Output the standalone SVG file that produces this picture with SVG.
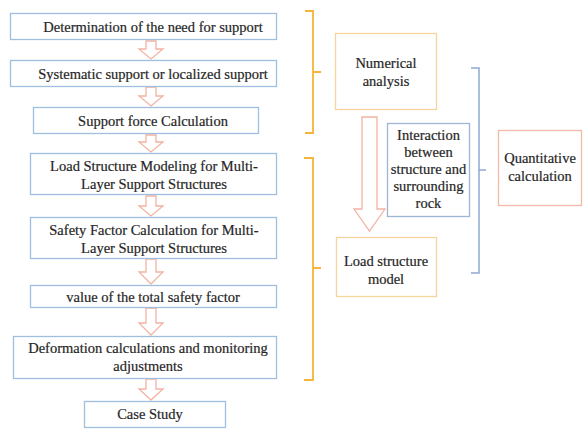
<svg xmlns="http://www.w3.org/2000/svg" width="584" height="430" viewBox="0 0 584 430">
  <style>
    .step rect { fill: #ffffff; stroke: #9ebfe0; stroke-width: 1.3; }
    .num rect { fill: #ffffff; stroke: #f6d49c; stroke-width: 1.3; }
    .blue rect { fill: #ffffff; stroke: #9db5d6; stroke-width: 1.3; }
    .quant rect { fill: #ffffff; stroke: #f2b9a9; stroke-width: 1.3; }
    text { font-size: 14.5px; fill: #262626; text-anchor: middle; stroke: #262626; stroke-width: 0.2; }
    .arrow { fill: #ffffff; stroke: #f3b3a3; stroke-width: 1.3; stroke-linejoin: miter; }
    .brace-o { fill: none; stroke: #f6b43a; stroke-width: 1.8; }
    .brace-b { fill: none; stroke: #8ea9d6; stroke-width: 1.5; }
  </style>
  <rect width="584" height="430" fill="#ffffff"/>

  <!-- flow connectors: hollow block arrows and grouping brackets -->
  <g id="connectors">
    <path class="arrow" d="M146 41 H156 V49 H163 L151 59 L139 49 H146 Z"/>
    <path class="arrow" d="M146 87 H156 V96 H163 L151 106 L139 96 H146 Z"/>
    <path class="arrow" d="M146 135 H156 V142 H163 L151 152 L139 142 H146 Z"/>
    <path class="arrow" d="M146 196 H156 V206 H163 L151 216 L139 206 H146 Z"/>
    <path class="arrow" d="M146 259 H156 V272 H163 L151 284 L139 272 H146 Z"/>
    <path class="arrow" d="M146 308 H156 V323 H163 L151 335 L139 323 H146 Z"/>
    <path class="arrow" d="M146 379 H156 V389 H163 L151 400 L139 389 H146 Z"/>
    <!-- large arrow: numerical analysis to load structure model -->
    <path class="arrow" d="M362 117 H377 V209 H385 L369.5 231 L354 209 H362 Z"/>
    <!-- orange brackets -->
    <path class="brace-o" d="M305 11 H313 V133 H305 M313 72 H321"/>
    <path class="brace-o" d="M304 158 H313 V380 H304 M313 268 H321"/>
    <!-- blue bracket -->
    <path class="brace-b" d="M471 68 H479 V273 H471 M479 170 H486"/>
  </g>

  <g font-family="Liberation Serif, Times New Roman, serif">
  <g id="need" class="step">
    <rect x="10.5" y="13.5" width="266" height="26"/>
    <text x="153" y="31.5">Determination  of the need for support</text>
  </g>
  <g id="systematic" class="step">
    <rect x="10.5" y="60.5" width="266" height="26"/>
    <text x="153" y="78.5">Systematic support or localized support</text>
  </g>
  <g id="force" class="step">
    <rect x="33.5" y="107.5" width="225" height="26"/>
    <text x="153" y="125.5">Support force Calculation</text>
  </g>
  <g id="load-modeling" class="step">
    <rect x="30.5" y="153.5" width="246" height="41"/>
    <text x="154" y="171">Load Structure Modeling for Multi-</text>
    <text x="154" y="189">Layer Support Structures</text>
  </g>
  <g id="safety-factor" class="step">
    <rect x="30.5" y="217.5" width="246" height="41"/>
    <text x="154" y="234.5">Safety Factor Calculation for Multi-</text>
    <text x="154" y="252.5">Layer Support Structures</text>
  </g>
  <g id="total-factor" class="step">
    <rect x="30.5" y="285.5" width="246" height="22"/>
    <text x="153" y="301.5">value of the total safety factor</text>
  </g>
  <g id="deformation" class="step">
    <rect x="13.5" y="336.5" width="263" height="42"/>
    <text x="148" y="353">Deformation calculations and monitoring</text>
    <text x="148" y="371">adjustments</text>
  </g>
  <g id="case-study" class="step">
    <rect x="84.5" y="401.5" width="141" height="26"/>
    <text x="150" y="419">Case Study</text>
  </g>

  <g id="numerical" class="num">
    <rect x="335.5" y="33.5" width="101" height="76"/>
    <text x="386" y="68">Numerical</text>
    <text x="386" y="86">analysis</text>
  </g>
  <g id="interaction" class="blue">
    <rect x="387.5" y="123.5" width="82" height="93"/>
    <text x="428.5" y="139.5">Interaction</text>
    <text x="428.5" y="156.5">between</text>
    <text x="428.5" y="173.5">structure and</text>
    <text x="428.5" y="190.5">surrounding</text>
    <text x="428.5" y="207.5">rock</text>
  </g>
  <g id="load-model" class="num">
    <rect x="336.5" y="237.5" width="100" height="59"/>
    <text x="386" y="266">Load structure</text>
    <text x="386" y="284">model</text>
  </g>
  <g id="quantitative" class="quant">
    <rect x="498.5" y="130.5" width="83" height="75"/>
    <text x="540" y="163">Quantitative</text>
    <text x="540" y="181">calculation</text>
  </g>
  </g>
</svg>
